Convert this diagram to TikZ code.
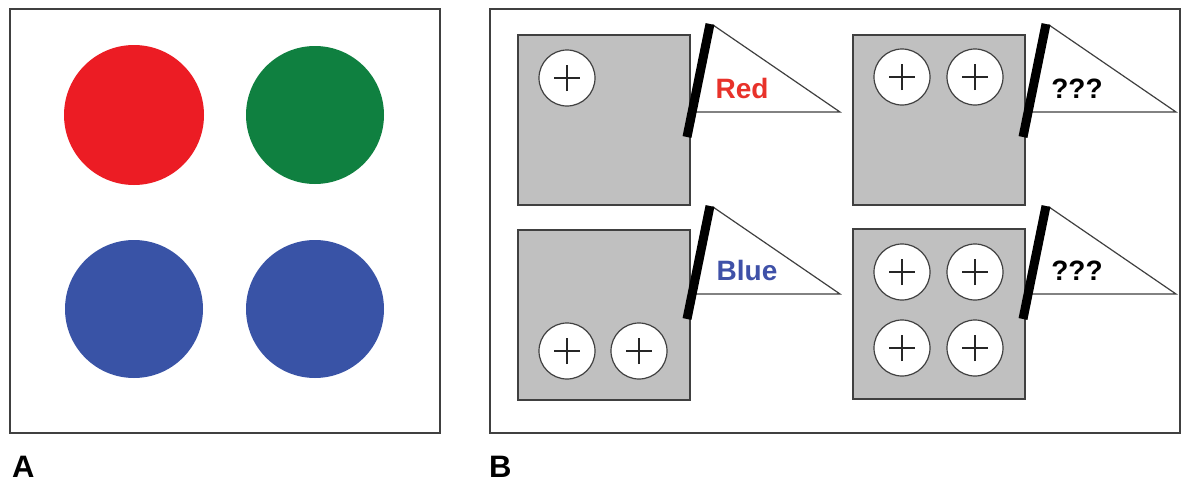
\documentclass[tikz,border=0pt]{standalone}
\usepackage{fontspec}
\setmainfont{Liberation Sans}
\definecolor{dotred}{HTML}{EC1C24}
\definecolor{dotgreen}{HTML}{0F8040}
\definecolor{dotblue}{HTML}{3953A6}
\definecolor{trayfill}{HTML}{C0C0C0}
\definecolor{edge}{HTML}{404040}
\definecolor{txtred}{HTML}{E8322A}
\definecolor{txtblue}{HTML}{3F51A8}
\begin{document}
\begin{tikzpicture}[x=1pt,y=-1pt,
  panel/.style={draw=edge,line width=1.8pt,fill=white,inner sep=0,rectangle},
  bigdot/.style={circle,minimum size=140pt,inner sep=0},
  tray/.style={draw=edge,line width=1.5pt,fill=trayfill,minimum width=172pt,minimum height=170pt,inner sep=0},
  token/.style={circle,draw=edge,line width=1.2pt,fill=white,minimum size=56pt,inner sep=0,
    path picture={\draw[line width=1.3pt,black!85] ([xshift=-13pt]path picture bounding box.center) -- ([xshift=13pt]path picture bounding box.center)
      ([yshift=-13pt]path picture bounding box.center) -- ([yshift=13pt]path picture bounding box.center);}},
  flagtext/.style={font=\bfseries\fontsize{28}{30}\selectfont,inner sep=0},
  paneltag/.style={font=\bfseries\fontsize{31}{34}\selectfont,inner sep=0,anchor=base west},
  pics/pennant/.style={code={
    \draw[edge,line width=1.2pt,fill=white] (3,1) -- (130,88) -- (-16,88) -- cycle;
    \draw[black,line width=9pt] (-23,113) -- (0,0);
  }}
]
\useasboundingbox (0,0) rectangle (1189,482);
\fill[white] (0,0) rectangle (1189,482);

% Panel A
\node[panel,minimum width=430pt,minimum height=424pt] (panelA) at (225,221) {};
\node[bigdot,fill=dotred] (dotR) at (134,115) {};
\node[bigdot,fill=dotgreen,minimum size=138pt] (dotG) at (315,115) {};
\node[bigdot,fill=dotblue,minimum size=138pt] (dotB1) at (134,309) {};
\node[bigdot,fill=dotblue,minimum size=138pt] (dotB2) at (315,309) {};

% Panel B
\node[panel,minimum width=690pt,minimum height=424pt] (panelB) at (835,221) {};

\node[tray] (trayTL) at (604,120) {};
\node[tray] (trayTR) at (939,120) {};
\node[tray] (trayBL) at (604,315) {};
\node[tray] (trayBR) at (939,314) {};

\node[token] (tk1) at (567,78) {};
\node[token] (tk2) at (902,77) {};
\node[token] (tk3) at (975,77) {};
\node[token] (tk4) at (567,351) {};
\node[token] (tk5) at (639,351) {};
\node[token] (tk6) at (902,272) {};
\node[token] (tk7) at (975,272) {};
\node[token] (tk8) at (902,348) {};
\node[token] (tk9) at (975,348) {};

\pic at (710,24) {pennant};
\pic at (1046,24) {pennant};
\pic at (710,206) {pennant};
\pic at (1046,206) {pennant};

\node[flagtext,text=txtred] (lblRed) at (742,88) {Red};
\node[flagtext] (lblQ1) at (1077,89) {???};
\node[flagtext,text=txtblue] (lblBlue) at (747,270) {Blue};
\node[flagtext] (lblQ2) at (1077,271) {???};

\node[paneltag] (tagA) at (12,477) {A};
\node[paneltag] (tagB) at (489,477) {B};
\end{tikzpicture}
\end{document}
